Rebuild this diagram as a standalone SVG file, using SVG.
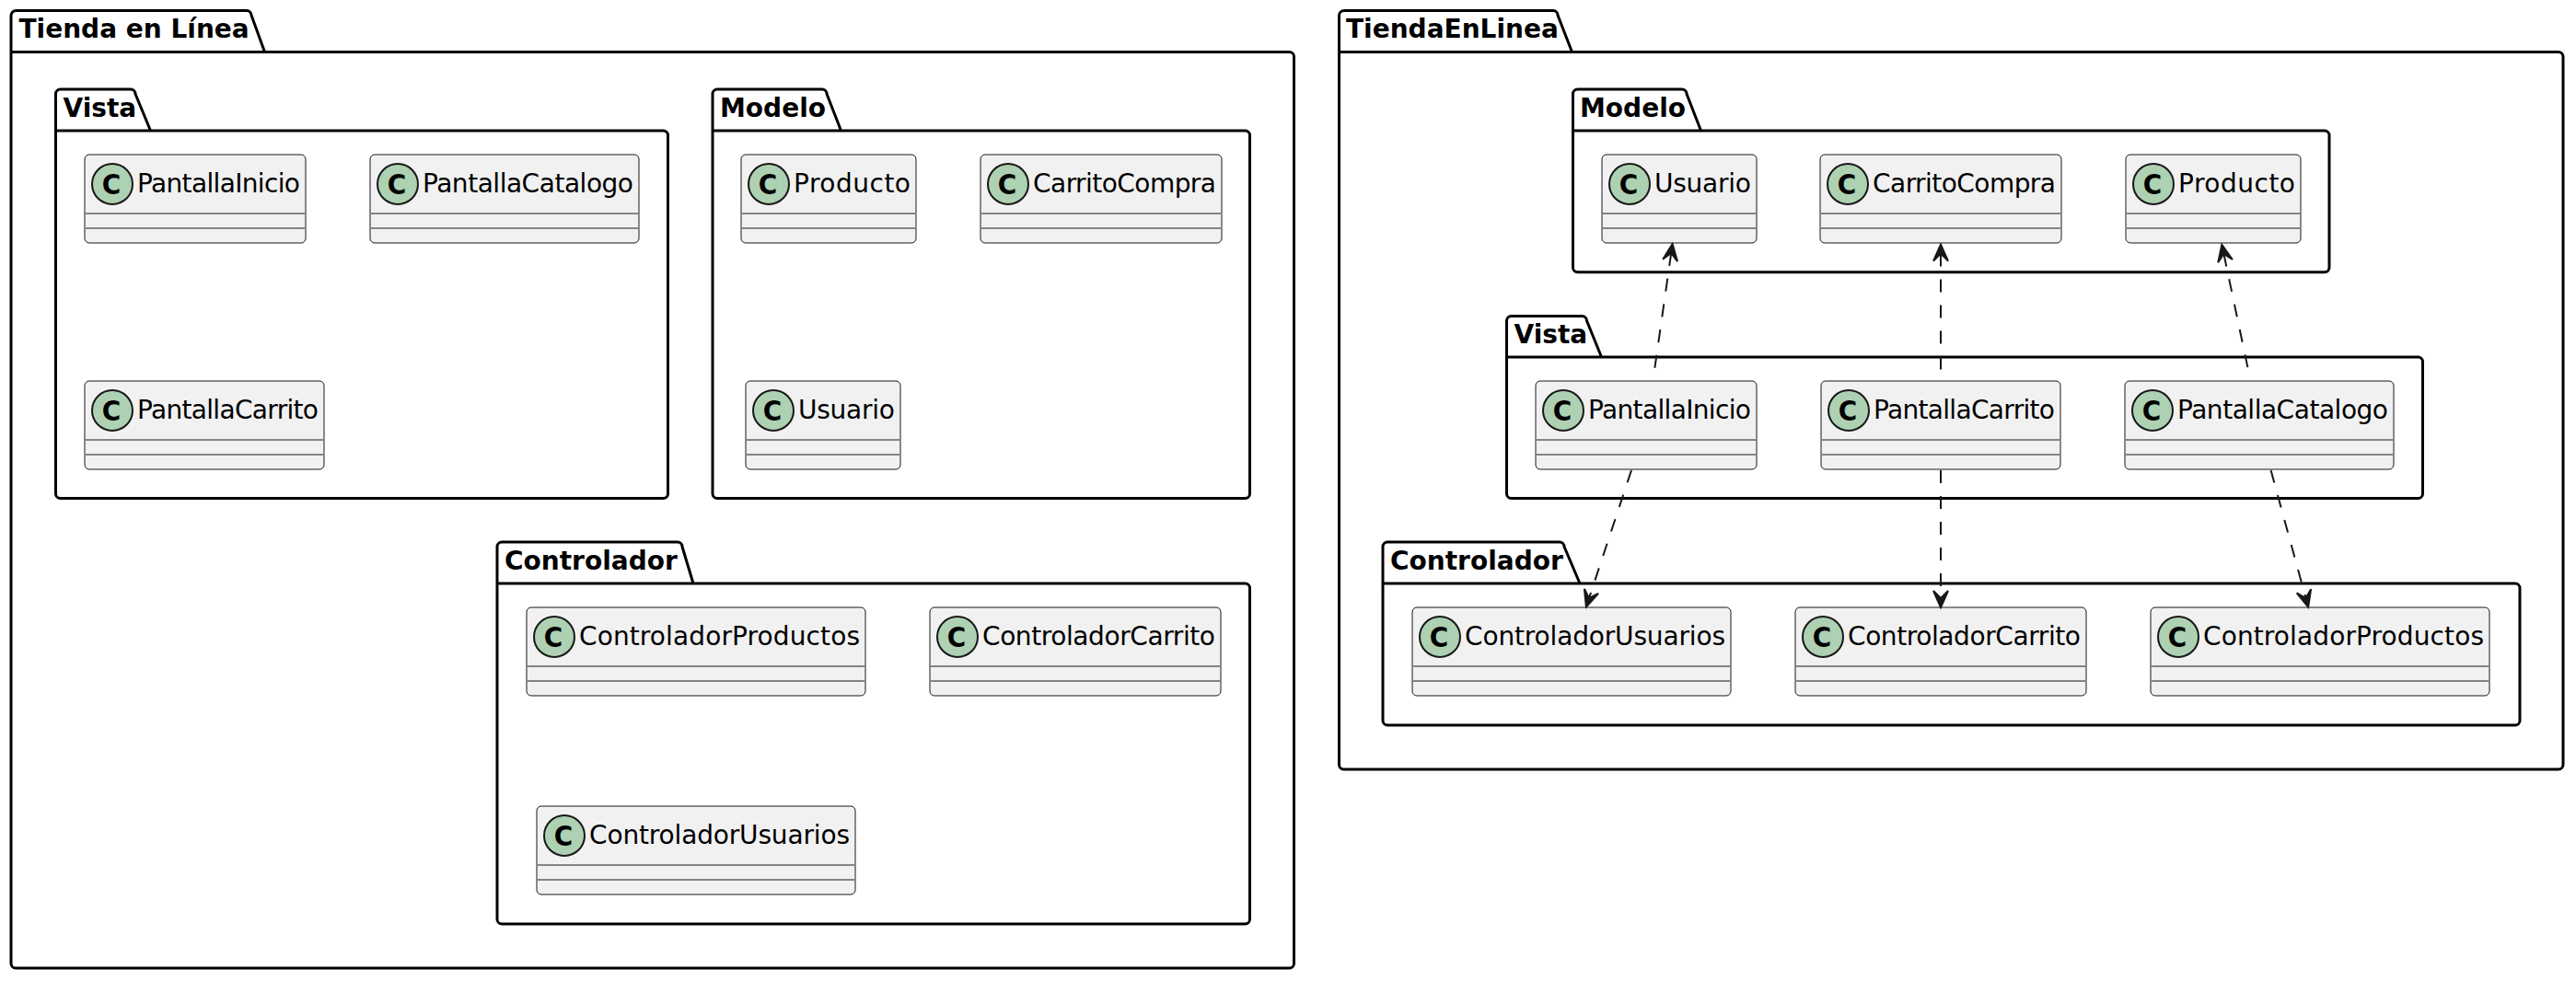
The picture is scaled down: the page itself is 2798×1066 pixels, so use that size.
<svg xmlns="http://www.w3.org/2000/svg" width="2798" height="1066" viewBox="0 0 2798 1066">
<style>
text{font-family:"DejaVu Sans",sans-serif;fill:#000}
.pk{fill:none;stroke:#000;stroke-width:3;stroke-linejoin:round}
.pt{font-size:28px;font-weight:700}
.box{fill:#F1F1F1;stroke:#181818;stroke-width:1}
.sep{stroke:#181818;stroke-width:1}
.spot{fill:#ADD1B2;stroke:#181818;stroke-width:2}
.c{font-family:"DejaVu Sans Condensed","DejaVu Sans",sans-serif;font-size:31px;font-weight:700;text-anchor:middle}
.cn{font-size:28px}
.lnk{fill:none;stroke:#181818;stroke-width:2;stroke-dasharray:14 14}
.up{marker-start:url(#ah)}
.dn{marker-end:url(#ah)}
</style>
<defs>
<marker id="ah" markerUnits="userSpaceOnUse" markerWidth="26" markerHeight="24" refX="10" refY="10" orient="auto-start-reverse" overflow="visible">
<path d="M20,10 L2,2 L10,10 L2,18 Z" fill="#181818" stroke="#181818" stroke-width="2" stroke-linejoin="miter"/>
</marker>
</defs>
<rect width="2798" height="1066" fill="#fff"/>

<g id="pkg-tienda-en-linea"><path class="pk" d="M12,17 A5.5,5.5 0 0 1 17.500,11.500 L268,11.500 A5,5 0 0 1 273,16.500 L287.500,56.500 L1400.500,56.500 A5,5 0 0 1 1405.500,61.500 L1405.500,1047 A5,5 0 0 1 1400.500,1052 L17,1052 A5,5 0 0 1 12,1047 Z M12,56.500 L287.500,56.500"/><text class="pt" x="20.500" y="41">Tienda en Línea</text></g>
<g id="pkg-vista-a"><path class="pk" d="M60.500,102 A5,5 0 0 1 65.500,97 L142,97 A5,5 0 0 1 147,102 L163.500,142 L720.500,142 A5,5 0 0 1 725.500,147 L725.500,536.500 A5,5 0 0 1 720.500,541.500 L65.500,541.500 A5,5 0 0 1 60.500,536.500 Z M60.500,142 L163.500,142"/><text class="pt" x="68.500" y="127">Vista</text></g>
<g id="pkg-modelo-a"><path class="pk" d="M774,102 A5,5 0 0 1 779,97 L893,97 A5,5 0 0 1 898,102 L913.500,142 L1352.500,142 A5,5 0 0 1 1357.500,147 L1357.500,536.500 A5,5 0 0 1 1352.500,541.500 L779,541.500 A5,5 0 0 1 774,536.500 Z M774,142 L913.500,142"/><text class="pt" x="782" y="127">Modelo</text></g>
<g id="pkg-controlador-a"><path class="pk" d="M540,594 A5,5 0 0 1 545,589 L736,589 A5,5 0 0 1 741,594 L753,634 L1352.500,634 A5,5 0 0 1 1357.500,639 L1357.500,999 A5,5 0 0 1 1352.500,1004 L545,1004 A5,5 0 0 1 540,999 Z M540,634 L753,634"/><text class="pt" x="548" y="619">Controlador</text></g>

<g id="pkg-tiendaenlinea"><path class="pk" d="M1454.500,17 A5.500,5.500 0 0 1 1460,11.500 L1687,11.500 A5,5 0 0 1 1692,16.500 L1707.500,56.500 L2779,56.500 A5,5 0 0 1 2784,61.500 L2784,831 A5,5 0 0 1 2779,836 L1459.500,836 A5,5 0 0 1 1454.500,831 Z M1454.500,56.500 L1707.500,56.500"/><text class="pt" x="1462" y="41">TiendaEnLinea</text></g>
<g id="pkg-modelo-b"><path class="pk" d="M1708.500,102 A5,5 0 0 1 1713.500,97 L1827,97 A5,5 0 0 1 1832,102 L1847.500,142 L2525,142 A5,5 0 0 1 2530,147 L2530,291 A5,5 0 0 1 2525,295.700 L1713.500,295.700 A5,5 0 0 1 1708.500,291 Z M1708.500,142 L1847.500,142"/><text class="pt" x="1716" y="127">Modelo</text></g>
<g id="pkg-vista-b"><path class="pk" d="M1636.500,348.500 A5,5 0 0 1 1641.500,343.500 L1718.500,343.500 A5,5 0 0 1 1723.500,348.500 L1739.500,388 L2626.500,388 A5,5 0 0 1 2631.500,393 L2631.500,536.500 A5,5 0 0 1 2626.500,541.500 L1641.500,541.500 A5,5 0 0 1 1636.500,536.500 Z M1636.500,388 L1739.500,388"/><text class="pt" x="1644.500" y="373">Vista</text></g>
<g id="pkg-controlador-b"><path class="pk" d="M1502,594 A5,5 0 0 1 1507,589 L1694,589 A5,5 0 0 1 1699,594 L1716,634 L2732,634 A5,5 0 0 1 2737,639 L2737,783 A5,5 0 0 1 2732,788 L1507,788 A5,5 0 0 1 1502,783 Z M1502,634 L1716,634"/><text class="pt" x="1510" y="619">Controlador</text></g>

<g id="a-pantalla-inicio"><rect class="box" x="92" y="168" width="240" height="96" rx="5"/><path class="sep" d="M93,232 H331 M93,248 H331"/><circle class="spot" cx="122" cy="200" r="22"/><text class="c" x="121" y="211">C</text><text class="cn" x="149" y="209" textLength="177">PantallaInicio</text></g>
<g id="a-pantalla-catalogo"><rect class="box" x="402" y="168" width="292" height="96" rx="5"/><path class="sep" d="M403,232 H693 M403,248 H693"/><circle class="spot" cx="432" cy="200" r="22"/><text class="c" x="431" y="211">C</text><text class="cn" x="459" y="209" textLength="229">PantallaCatalogo</text></g>
<g id="a-pantalla-carrito"><rect class="box" x="92" y="414" width="260" height="96" rx="5"/><path class="sep" d="M93,478 H351 M93,494 H351"/><circle class="spot" cx="122" cy="446" r="22"/><text class="c" x="121" y="457">C</text><text class="cn" x="149" y="455" textLength="197">PantallaCarrito</text></g>
<g id="a-producto"><rect class="box" x="805" y="168" width="190" height="96" rx="5"/><path class="sep" d="M806,232 H994 M806,248 H994"/><circle class="spot" cx="835" cy="200" r="22"/><text class="c" x="834" y="211">C</text><text class="cn" x="862" y="209" textLength="127">Producto</text></g>
<g id="a-carrito-compra"><rect class="box" x="1065" y="168" width="262" height="96" rx="5"/><path class="sep" d="M1066,232 H1326 M1066,248 H1326"/><circle class="spot" cx="1095" cy="200" r="22"/><text class="c" x="1094" y="211">C</text><text class="cn" x="1122" y="209" textLength="199">CarritoCompra</text></g>
<g id="a-usuario"><rect class="box" x="810" y="414" width="168" height="96" rx="5"/><path class="sep" d="M811,478 H977 M811,494 H977"/><circle class="spot" cx="840" cy="446" r="22"/><text class="c" x="839" y="457">C</text><text class="cn" x="867" y="455" textLength="105">Usuario</text></g>
<g id="a-controlador-productos"><rect class="box" x="572" y="660" width="368" height="96" rx="5"/><path class="sep" d="M573,724 H939 M573,740 H939"/><circle class="spot" cx="602" cy="692" r="22"/><text class="c" x="601" y="703">C</text><text class="cn" x="629" y="701" textLength="305">ControladorProductos</text></g>
<g id="a-controlador-carrito"><rect class="box" x="1010" y="660" width="316" height="96" rx="5"/><path class="sep" d="M1011,724 H1325 M1011,740 H1325"/><circle class="spot" cx="1040" cy="692" r="22"/><text class="c" x="1039" y="703">C</text><text class="cn" x="1067" y="701" textLength="253">ControladorCarrito</text></g>
<g id="a-controlador-usuarios"><rect class="box" x="583" y="876" width="346" height="96" rx="5"/><path class="sep" d="M584,940 H928 M584,956 H928"/><circle class="spot" cx="613" cy="908" r="22"/><text class="c" x="612" y="919">C</text><text class="cn" x="640" y="917" textLength="283">ControladorUsuarios</text></g>

<g id="b-usuario"><rect class="box" x="1740" y="168" width="168" height="96" rx="5"/><path class="sep" d="M1741,232 H1907 M1741,248 H1907"/><circle class="spot" cx="1770" cy="200" r="22"/><text class="c" x="1769" y="211">C</text><text class="cn" x="1797" y="209" textLength="105">Usuario</text></g>
<g id="b-carrito-compra"><rect class="box" x="1977" y="168" width="262" height="96" rx="5"/><path class="sep" d="M1978,232 H2238 M1978,248 H2238"/><circle class="spot" cx="2007" cy="200" r="22"/><text class="c" x="2006" y="211">C</text><text class="cn" x="2034" y="209" textLength="199">CarritoCompra</text></g>
<g id="b-producto"><rect class="box" x="2309" y="168" width="190" height="96" rx="5"/><path class="sep" d="M2310,232 H2498 M2310,248 H2498"/><circle class="spot" cx="2339" cy="200" r="22"/><text class="c" x="2338" y="211">C</text><text class="cn" x="2366" y="209" textLength="127">Producto</text></g>
<g id="b-pantalla-inicio"><rect class="box" x="1668" y="414" width="240" height="96" rx="5"/><path class="sep" d="M1669,478 H1907 M1669,494 H1907"/><circle class="spot" cx="1698" cy="446" r="22"/><text class="c" x="1697" y="457">C</text><text class="cn" x="1725" y="455" textLength="177">PantallaInicio</text></g>
<g id="b-pantalla-carrito"><rect class="box" x="1978" y="414" width="260" height="96" rx="5"/><path class="sep" d="M1979,478 H2237 M1979,494 H2237"/><circle class="spot" cx="2008" cy="446" r="22"/><text class="c" x="2007" y="457">C</text><text class="cn" x="2035" y="455" textLength="197">PantallaCarrito</text></g>
<g id="b-pantalla-catalogo"><rect class="box" x="2308" y="414" width="292" height="96" rx="5"/><path class="sep" d="M2309,478 H2599 M2309,494 H2599"/><circle class="spot" cx="2338" cy="446" r="22"/><text class="c" x="2337" y="457">C</text><text class="cn" x="2365" y="455" textLength="229">PantallaCatalogo</text></g>
<g id="b-controlador-usuarios"><rect class="box" x="1534" y="660" width="346" height="96" rx="5"/><path class="sep" d="M1535,724 H1879 M1535,740 H1879"/><circle class="spot" cx="1564" cy="692" r="22"/><text class="c" x="1563" y="703">C</text><text class="cn" x="1591" y="701" textLength="283">ControladorUsuarios</text></g>
<g id="b-controlador-carrito"><rect class="box" x="1950" y="660" width="316" height="96" rx="5"/><path class="sep" d="M1951,724 H2265 M1951,740 H2265"/><circle class="spot" cx="1980" cy="692" r="22"/><text class="c" x="1979" y="703">C</text><text class="cn" x="2007" y="701" textLength="253">ControladorCarrito</text></g>
<g id="b-controlador-productos"><rect class="box" x="2336" y="660" width="368" height="96" rx="5"/><path class="sep" d="M2337,724 H2703 M2337,740 H2703"/><circle class="spot" cx="2366" cy="692" r="22"/><text class="c" x="2365" y="703">C</text><text class="cn" x="2393" y="701" textLength="305">ControladorProductos</text></g>

<g id="connectors">
<path class="lnk up" d="M1815.200,275 L1797,402.500"/>
<path class="lnk up" d="M2108,275.600 L2108,403"/>
<path class="lnk up" d="M2415.400,275.800 L2442,402"/>
<path class="lnk dn" d="M1772,511 L1726,650"/>
<path class="lnk dn" d="M2108,511 L2108,650"/>
<path class="lnk dn" d="M2466.600,511 L2504.500,650"/>
</g>
</svg>
